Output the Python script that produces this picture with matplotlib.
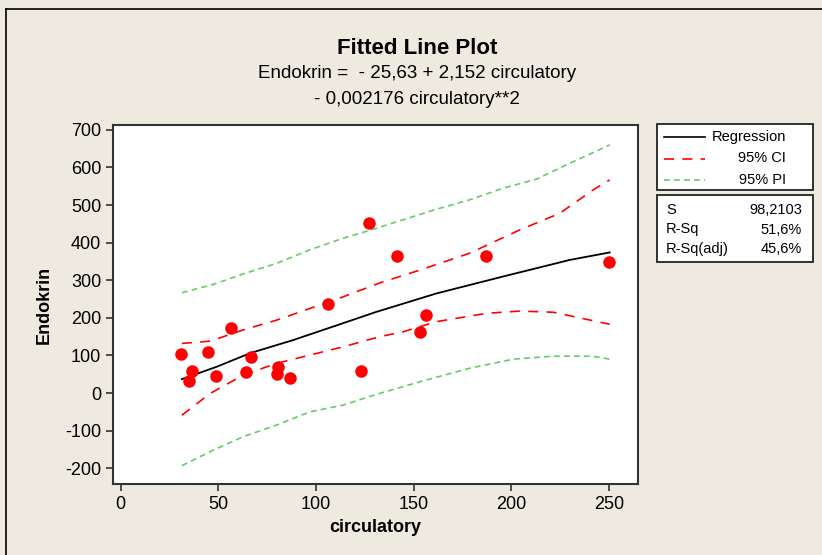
import matplotlib
matplotlib.use("Agg")
import matplotlib.pyplot as plt
from matplotlib.patches import Rectangle
from matplotlib.lines import Line2D

plt.rcParams['font.family'] = ['Liberation Sans', 'DejaVu Sans']
plt.rcParams['axes.unicode_minus'] = False

# observed points
circulatory = [30.6, 35.0, 36.5, 44.6, 49.0, 56.5, 64.3, 66.6, 79.9, 80.7,
               86.5, 106.3, 123.0, 127.0, 141.6, 153.2, 156.3, 187.0, 250.3]
endokrin = [104.6, 31.1, 58.6, 108.4, 46.1, 173.0, 55.1, 96.6, 50.6, 70.0,
            39.1, 237.0, 58.6, 451.8, 364.8, 161.6, 207.7, 364.8, 349.6]

# fitted line
fit_x = [31.3, 49.2, 66.2, 88.4, 114.0, 131.0, 161.8, 195.9, 230.0, 250.5]
fit_y = [37, 70, 106, 141, 186, 216, 265, 310, 354, 374]

# 95% CI band
ci_up_x = [31.3, 45.8, 62.8, 79.9, 96.9, 114.0, 132.7, 153.2, 178.8, 204.4, 224.9, 241.9, 250.5]
ci_up_y = [132, 138, 168, 194, 225, 256, 293, 327, 372, 434, 478, 540, 567]
ci_lo_x = [31.3, 45.8, 62.8, 79.9, 96.9, 114.0, 132.7, 144.7, 161.8, 187.4, 204.4, 221.4, 250.5]
ci_lo_y = [-59, -1, 48, 79, 101, 123, 150, 163, 190, 212, 218, 215, 183]

# 95% PI band
pi_up_x = [31.3, 47.4, 62.8, 79.9, 96.9, 114.0, 129.0, 144.7, 161.8, 178.8, 195.9, 213.0, 230.0, 250.5]
pi_up_y = [267, 289, 317, 345, 381, 412, 435, 461, 489, 514, 545, 569, 611, 660]
pi_lo_x = [31.3, 47.4, 62.8, 79.9, 96.9, 114.0, 130.0, 153.2, 178.8, 201.0, 221.4, 241.9, 250.5]
pi_lo_y = [-193, -152, -116, -85, -50, -32, -5, 30, 66, 90, 98, 98, 90]

stat_names = ["S", "R-Sq", "R-Sq(adj)"]
stat_values = ["98,2103", "51,6%", "45,6%"]

bg = "#EEEAE0"
green = "#66CC66"
fig = plt.figure(figsize=(8.22, 5.55), dpi=100, facecolor=bg)
W, H = 822, 555

def fx(px):
    return px / W

def fy(py):
    return 1 - py / H

# outer frame (top and left edges visible)
fig.add_artist(Line2D([fx(6), fx(6)], [0, fy(9)], color="black", lw=1.2))
fig.add_artist(Line2D([fx(6), 1], [fy(9), fy(9)], color="black", lw=1.2))

ax = fig.add_axes([fx(113), fy(484), fx(638) - fx(113), fy(125) - fy(484)])
ax.set_facecolor("white")

ax.plot(pi_up_x, pi_up_y, color=green, lw=1.2, dashes=(3.5, 2.5))
ax.plot(pi_lo_x, pi_lo_y, color=green, lw=1.2, dashes=(3.5, 2.5))
ax.plot(ci_up_x, ci_up_y, color="red", lw=1.2, dashes=(6, 5))
ax.plot(ci_lo_x, ci_lo_y, color="red", lw=1.2, dashes=(6, 5))
ax.plot(fit_x, fit_y, color="black", lw=1.3)
ax.plot(circulatory, endokrin, "o", color="red", markersize=9, markeredgewidth=0)

ax.set_xlim(-4, 265)
ax.set_ylim(-242, 713)
ax.set_xticks([0, 50, 100, 150, 200, 250])
ax.set_yticks(range(-200, 701, 100))
ax.tick_params(labelsize=13, length=5, color="#333333", width=1.2)
for s in ax.spines.values():
    s.set_color("#333333")
    s.set_linewidth(1.5)
ax.set_xlabel("circulatory", fontsize=13, fontweight="bold")
ax.set_ylabel("Endokrin", fontsize=13, fontweight="bold")
ax.xaxis.set_label_coords(0.5, -0.0975)
ax.yaxis.set_label_coords(-0.114, 0.5)

fig.text(fx(417), fy(48), "Fitted Line Plot", ha="center", va="center",
         fontsize=16, fontweight="bold")
fig.text(fx(417), fy(73), "Endokrin =  - 25,63 + 2,152 circulatory",
         ha="center", va="center", fontsize=13.5)
fig.text(fx(417), fy(99), "- 0,002176 circulatory**2",
         ha="center", va="center", fontsize=13.5)

# legend box
fig.add_artist(Rectangle((fx(657), fy(190)), fx(813) - fx(657), fy(124) - fy(190),
                         transform=fig.transFigure, facecolor="white",
                         edgecolor="#222222", lw=1.3))
leg_rows = [("Regression", "black", None), ("95% CI", "red", (6, 5)),
            ("95% PI", green, (3.5, 2.5))]
for i, (lab, col, dsh) in enumerate(leg_rows):
    yy = fy(137 + 21.5 * i)
    ln = Line2D([fx(664), fx(705)], [yy, yy], color=col, lw=1.2)
    if dsh:
        ln.set_dashes(dsh)
    fig.add_artist(ln)
    fig.text(fx(786), yy, lab, ha="right", va="center", fontsize=10.5)

# stats box
fig.add_artist(Rectangle((fx(657), fy(262)), fx(813) - fx(657), fy(195) - fy(262),
                         transform=fig.transFigure, facecolor="white",
                         edgecolor="#222222", lw=1.3))
for i, (n, v) in enumerate(zip(stat_names, stat_values)):
    yy = fy(210 + 19.5 * i)
    fig.text(fx(666), yy, n, ha="left", va="center", fontsize=10.5)
    fig.text(fx(802), yy, v, ha="right", va="center", fontsize=10.5)

fig.savefig("out.png", dpi=100, facecolor=bg)
